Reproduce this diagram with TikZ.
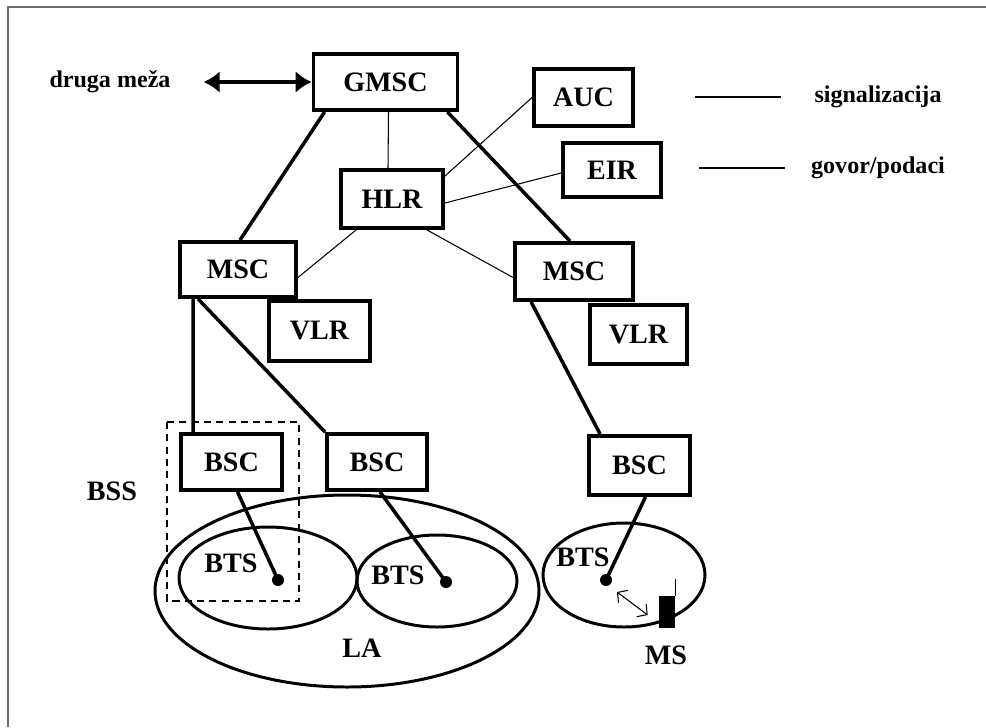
\documentclass[tikz,border=0pt]{standalone}
\usepackage{fontspec}
\setmainfont{Liberation Serif}
\usetikzlibrary{arrows.meta,calc}
\definecolor{FrameClr}{rgb}{0.42,0.42,0.42}

\begin{document}
\begin{tikzpicture}[x=0.02cm,y=-0.02cm,
  Unit/.style={draw,line width=2.2pt,inner sep=0pt,font=\fontsize{16}{19}\selectfont\bfseries},
  Lbl/.style={font=\fontsize{16}{19}\selectfont\bfseries},
  SmallLbl/.style={font=\fontsize{13.7}{16}\selectfont\bfseries},
  Thick/.style={line width=2pt},
  Thin/.style={line width=0.6pt},
  Cell/.style={line width=1.7pt},
  Dot/.style={circle,fill,inner sep=0pt,minimum size=0.24cm}]
\useasboundingbox (0,0) rectangle (986,727);
\draw[FrameClr,line width=1.3pt] (8,727) -- (8,7) -- (986,7);

% network units
\node[Unit,minimum width=2.88cm,minimum height=1.12cm] (gmsc) at (385.5,82) {GMSC};
\node[Unit,minimum width=1.98cm,minimum height=1.14cm] (auc) at (583.5,97.5) {AUC};
\node[Unit,minimum width=1.96cm,minimum height=1.08cm] (eir) at (612,170) {EIR};
\node[Unit,minimum width=2.04cm,minimum height=1.16cm] (hlr) at (392,199) {HLR};
\node[Unit,minimum width=2.32cm,minimum height=1.10cm] (mscl) at (238,269.5) {MSC\hspace{0.35cm}};
\node[Unit,minimum width=2.02cm,minimum height=1.20cm] (vlrl) at (319.5,331) {VLR};
\node[Unit,minimum width=2.36cm,minimum height=1.14cm] (mscr) at (574,271.5) {MSC\hspace{0.2cm}};
\node[Unit,minimum width=1.94cm,minimum height=1.18cm] (vlrr) at (638.5,334.5) {VLR};
\node[Unit,minimum width=2.02cm,minimum height=1.12cm] (bscl) at (231.5,462) {BSC};
\node[Unit,minimum width=2.00cm,minimum height=1.12cm] (bscm) at (377,462) {BSC};
\node[Unit,minimum width=2.02cm,minimum height=1.18cm] (bscr) at (639.5,465.5) {BSC};

% cells
\draw[Cell] (347,591) ellipse (192 and 96);
\draw[Cell] (268,578) ellipse (89 and 51);
\draw[Cell] (437,581) ellipse (80 and 46);
\draw[Cell] (624,575) ellipse (81 and 52);
\draw[Thin,dash pattern=on 4pt off 3pt] (167,422) rectangle (299,601);

\node[Dot] (dotl) at (278,580) {};
\node[Dot] (dotm) at (446,582) {};
\node[Dot] (dotr) at (606,580) {};
\node[Lbl] (btsl) at (231,563) {BTS};
\node[Lbl] (btsm) at (398,575) {BTS};
\node[Lbl] (btsr) at (583,557) {BTS};
\node[Lbl] (la) at (362,648) {LA};
\node[Lbl] (bss) at (112,491) {BSS};

% mobile station
\node[fill,inner sep=0pt,minimum width=0.32cm,minimum height=0.64cm] (ms) at (667,612) {};
\draw[Thin] (ms.north east) -- ++(0,-17);
\node[Lbl] (mslbl) at (666,655) {MS};
\draw[Thin,{Straight Barb[length=4pt,width=9pt]}-{Straight Barb[length=4pt,width=9pt]}]
  ($(dotr)+(11,12)$) -- ($(ms.west)+(-11,3)$);

% links
\draw[Thick] ($(gmsc.south west)+(13,0)$) -- ($(mscl.north)+(2,0)$);
\draw[Thick] ($(gmsc.south east)+(-12,0)$) -- ($(mscr.north)+(-4,0)$);
\draw[Thin] ($(gmsc.south)+(3,0)$) -- ($(hlr.north)+(-4,0)$);
\draw[Thin] ($(hlr.north east)+(0,8)$) -- (auc.west);
\draw[Thin] ($(hlr.east)+(0,4)$) -- ($(eir.west)+(0,3)$);
\draw[Thin] ($(hlr.south west)+(17,0)$) -- ($(mscl.east)+(0,8)$);
\draw[Thin] ($(hlr.south east)+(-18,0)$) -- ($(mscr.west)+(0,6)$);
\draw[Thick] ($(mscl.south west)+(15,0)$) -- ($(bscl.north west)+(14,0)$);
\draw[Thick] ($(mscl.south west)+(20,0)$) -- (bscm.north west);
\draw[Thick] ($(mscr.south west)+(18,0)$) -- ($(bscr.north west)+(13,0)$);
\draw[Thick] ($(bscl.south)+(6,0)$) -- (dotl.center);
\draw[Thick] ($(bscm.south)+(3,0)$) -- (dotm.center);
\draw[Thick] ($(bscr.south)+(6,0)$) -- (dotr.center);

% other network and legend
\node[SmallLbl] (druga) at (110,82) {druga meža};
\draw[line width=2.2pt,{Latex[length=0.32cm,width=0.44cm]}-{Latex[length=0.32cm,width=0.44cm]}]
  ($(druga.east)+(27,0)$) -- (gmsc.west);
\node[SmallLbl] (sig) at (878,97) {signalizacija};
\node[SmallLbl] (gov) at (878,168) {govor/podaci};
\draw[Thin] ($(sig.west)+(-27,0)$) -- ++(-86,0);
\draw[Thin] ($(gov.west)+(-20,0)$) -- ++(-86,0);
\end{tikzpicture}
\end{document}
